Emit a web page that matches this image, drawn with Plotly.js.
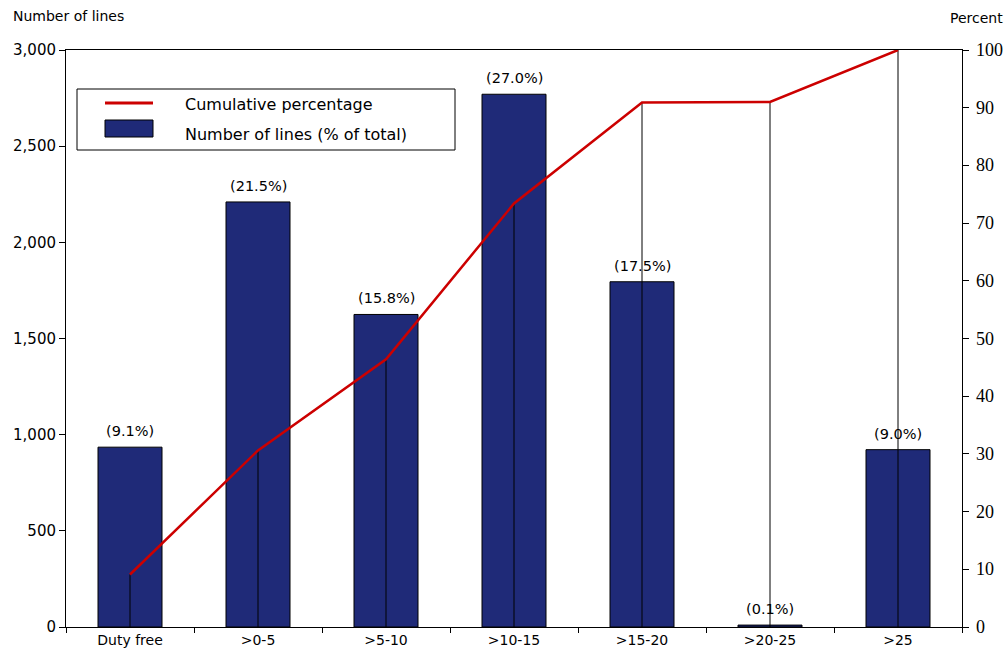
<!DOCTYPE html>
<html>
<head>
<meta charset="utf-8">
<script src="https://cdn.plot.ly/plotly-3.0.1.min.js"></script>
<style>html,body{margin:0;padding:0;background:#fff;}#chart{width:1006px;height:655px;}</style>
</head>
<body>
<div id="chart"></div>
<script>
const categories = ["Duty free", ">0-5", ">5-10", ">10-15", ">15-20", ">20-25", ">25"];
const numberOfLines = [935, 2210, 1625, 2770, 1795, 10, 922];
const shareLabels = ["(9.1%)", "(21.5%)", "(15.8%)", "(27.0%)", "(17.5%)", "(0.1%)", "(9.0%)"];
const cumulativePct = [9.1, 30.6, 46.4, 73.4, 90.9, 91.0, 100];
const leftTicks = [0, 500, 1000, 1500, 2000, 2500, 3000];
const rightTicks = [0, 10, 20, 30, 40, 50, 60, 70, 80, 90, 100];

const navy = "#1f2a78";
const red = "#cc0000";
const sans = "DejaVu Sans";
const serif = "Times New Roman, Liberation Serif, DejaVu Serif, serif";

const W = 1006, H = 655;
const L = 66, R = 44, T = 50, B = 28;
const pw = W - L - R, ph = H - T - B;
const px = v => (v - L) / pw;
const py = v => (H - B - v) / ph;

const traces = [
  {
    type: "bar", x: categories, y: numberOfLines, yaxis: "y",
    width: 0.5,
    marker: {color: navy, line: {color: "#000", width: 1}},
    showlegend: false, hoverinfo: "x+y"
  },
  {
    type: "scatter", mode: "lines", x: categories, y: cumulativePct, yaxis: "y2",
    line: {color: red, width: 2.5},
    error_y: {type: "data", symmetric: false, array: cumulativePct.map(() => 0),
              arrayminus: cumulativePct, width: 0, color: "#000", thickness: 1},
    showlegend: false
  }
];

const annotations = categories.map((c, i) => ({
  x: c, y: numberOfLines[i], xref: "x", yref: "y",
  text: shareLabels[i], showarrow: false, yanchor: "bottom", yshift: 6,
  font: {family: sans, size: 14.5, color: "#000"}
}));
rightTicks.forEach(v => annotations.push({
  xref: "paper", yref: "y2", x: 1, y: v, xanchor: "left", yanchor: "middle", xshift: 12,
  text: String(v), showarrow: false, font: {family: serif, size: 18, color: "#000"}
}));
annotations.push(
  {xref: "paper", yref: "paper", x: px(11), y: py(16), xanchor: "left", yanchor: "middle",
   text: "Number of lines", showarrow: false, font: {family: sans, size: 14, color: "#000"}},
  {xref: "paper", yref: "paper", x: px(1005), y: py(18), xanchor: "right", yanchor: "middle",
   text: "Percent", showarrow: false, font: {family: sans, size: 14, color: "#000"}},
  {xref: "paper", yref: "paper", x: px(183), y: py(104), xanchor: "left", yanchor: "middle",
   text: "Cumulative percentage", showarrow: false, font: {family: sans, size: 16, color: "#000"}},
  {xref: "paper", yref: "paper", x: px(183), y: py(134), xanchor: "left", yanchor: "middle",
   text: "Number of lines (% of total)", showarrow: false, font: {family: sans, size: 16, color: "#000"}}
);

const shapes = [
  {type: "rect", xref: "paper", yref: "paper", x0: px(77), x1: px(455), y0: py(150), y1: py(89),
   line: {color: "#000", width: 1}, fillcolor: "#fff", layer: "above"},
  {type: "line", xref: "paper", yref: "paper", x0: px(105), x1: px(153), y0: py(103), y1: py(103),
   line: {color: red, width: 3}, layer: "above"},
  {type: "rect", xref: "paper", yref: "paper", x0: px(105), x1: px(153), y0: py(137), y1: py(120),
   line: {color: "#000", width: 1}, fillcolor: navy, layer: "above"}
];

const layout = {
  width: W, height: H,
  margin: {l: L, r: R, t: T, b: B, pad: 0},
  paper_bgcolor: "#fff", plot_bgcolor: "#fff",
  showlegend: false,
  bargap: 0.5,
  font: {family: sans, size: 14, color: "#000"},
  xaxis: {
    type: "category", tickson: "boundaries", ticks: "outside", ticklen: 5, tickcolor: "#000",
    showline: true, linecolor: "#000", linewidth: 1, mirror: true, showgrid: false,
    tickfont: {family: sans, size: 14, color: "#000"}, range: [-0.5, 6.5]
  },
  yaxis: {
    range: [0, 3000], tickvals: leftTicks, tickformat: ",d", ticks: "outside", ticklen: 6,
    tickcolor: "#000", showline: true, linecolor: "#000", linewidth: 1, showgrid: false,
    zeroline: false, tickfont: {family: sans, size: 15, color: "#000"}
  },
  yaxis2: {
    overlaying: "y", side: "right", range: [0, 100], tickvals: rightTicks, ticks: "outside",
    ticklen: 6, tickcolor: "#000", showline: true, linecolor: "#000", linewidth: 1,
    showgrid: false, zeroline: false, showticklabels: false
  },
  annotations: annotations,
  shapes: shapes
};

Plotly.newPlot("chart", traces, layout, {displayModeBar: false, staticPlot: true});
</script>
</body>
</html>
